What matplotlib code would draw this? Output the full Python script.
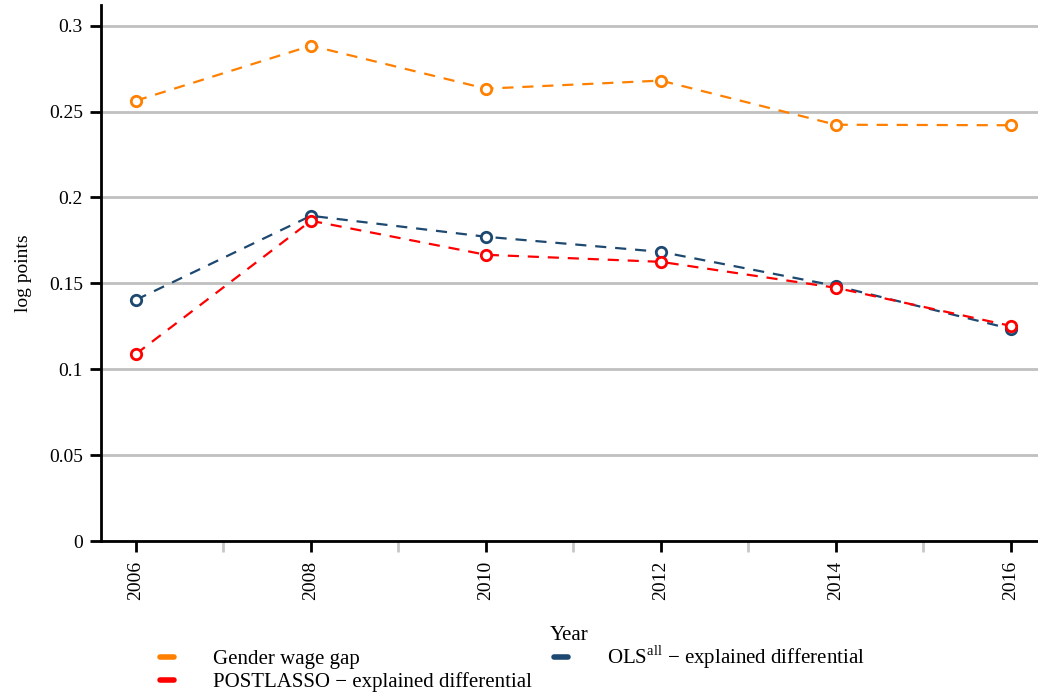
import matplotlib
matplotlib.use("Agg")
import matplotlib.pyplot as plt
from matplotlib.lines import Line2D

# data
years = [2006, 2008, 2010, 2012, 2014, 2016]
gap = [0.2563, 0.2883, 0.2633, 0.2680, 0.2423, 0.2420]
ols = [0.1404, 0.1893, 0.1771, 0.1683, 0.1485, 0.1235]
postlasso = [0.1089, 0.1864, 0.1666, 0.1625, 0.1474, 0.1252]

C_GAP = "#ff8000"
C_OLS = "#1d4870"
C_PL = "#ff0000"

plt.rcParams["font.family"] = ["Liberation Serif", "DejaVu Serif"]
plt.rcParams["mathtext.fontset"] = "custom"
plt.rcParams["mathtext.rm"] = "Liberation Serif"

fig = plt.figure(figsize=(10.38, 6.93), dpi=100)
ax = fig.add_axes([0.0973, 0.2193, 0.9027, 0.7735])

for vals, c in [(gap, C_GAP), (ols, C_OLS), (postlasso, C_PL)]:
    ax.plot(years, vals, linestyle=(0, (5, 4)), color=c, linewidth=1.6,
            marker="o", markersize=7.5, markerfacecolor="white",
            markeredgecolor=c, markeredgewidth=2, zorder=3)

ax.set_ylim(0, 0.312)
ax.set_xlim(2005.6, 2016.31)
ax.set_yticks([0, 0.05, 0.1, 0.15, 0.2, 0.25, 0.3])
ax.set_yticklabels(["0", "0.05", "0.1", "0.15", "0.2", "0.25", "0.3"])
ax.set_xticks(years)
ax.set_xticks([2007, 2009, 2011, 2013, 2015], minor=True)
ax.tick_params(axis="x", which="major", length=8, width=2, color="black",
               labelrotation=90, labelsize=14, pad=6)
ax.tick_params(axis="x", which="minor", length=8, width=2, color="#c8c8c8")
ax.tick_params(axis="y", length=8, width=2, labelsize=14, pad=5)
ax.yaxis.grid(True, color="#c0c0c0", linewidth=2)
ax.set_axisbelow(True)

for s in ["top", "right"]:
    ax.spines[s].set_visible(False)
for s in ["left", "bottom"]:
    ax.spines[s].set_linewidth(2)

ax.set_ylabel("log points", fontsize=14, labelpad=12)
ax.set_xlabel("Year", fontsize=15, labelpad=19)

handles = [
    Line2D([], [], color=C_GAP, linewidth=4, solid_capstyle="round"),
    Line2D([], [], color=C_PL, linewidth=4, solid_capstyle="round"),
    Line2D([], [], color=C_OLS, linewidth=4, solid_capstyle="round"),
]
labels = [
    "Gender wage gap",
    "POSTLASSO \u2212 explained differential",
    "OLS$^{\\mathrm{all}}$ \u2212 explained differential",
]
fig.legend(handles, labels, loc="upper left", bbox_to_anchor=(0.146, 0.083),
           ncol=2, frameon=False, fontsize=15, handlelength=0.7,
           handletextpad=1.85, columnspacing=1.05, labelspacing=0.15,
           borderaxespad=0)

fig.savefig("out.png", dpi=100)
